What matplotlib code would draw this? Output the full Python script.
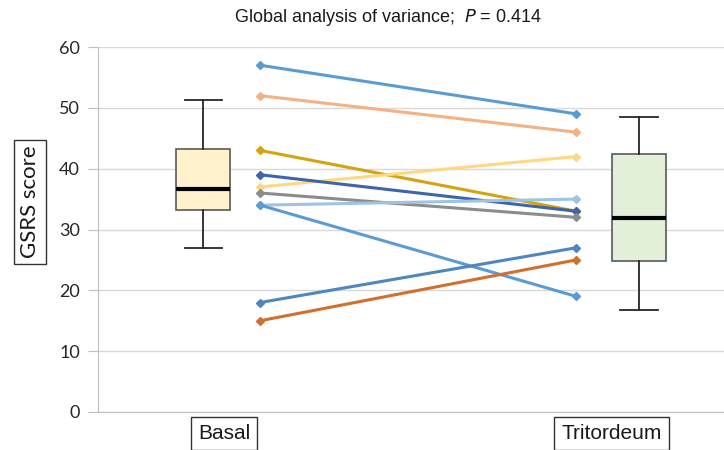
import matplotlib
matplotlib.use("Agg")
import matplotlib.pyplot as plt

groups = ["Basal", "Tritordeum"]
basal_stats = dict(whislo=27.0, q1=33.2, med=36.7, q3=43.3, whishi=51.3)
trit_stats = dict(whislo=16.8, q1=24.8, med=31.9, q3=42.4, whishi=48.5)

basal_vals = [57, 52, 43, 37, 39, 36, 34, 34, 18, 15]
trit_vals = [49, 46, 33, 42, 33, 32, 35, 19, 27, 25]
line_colors = ["#5B9BD5", "#F4B183", "#D4A410", "#FFD780", "#3E64AE",
               "#8C8C8C", "#9DC3E6", "#5B9BD5", "#4F86C0", "#D0702E"]

yticks = [0, 10, 20, 30, 40, 50, 60]

fig = plt.figure(figsize=(7.24, 4.5), dpi=100)
ax = fig.add_axes([98/724, 38/450, 626/724, 365/450])

# box plots
stats = [dict(basal_stats, label=groups[0]), dict(trit_stats, label=groups[1])]
bp = ax.bxp(stats, positions=[0, 1], widths=[0.122, 0.124], showfliers=False,
            patch_artist=True,
            boxprops=dict(edgecolor="#595959", linewidth=1.2),
            medianprops=dict(color="black", linewidth=3),
            whiskerprops=dict(color="#262626", linewidth=1.3),
            capprops=dict(color="#262626", linewidth=1.3),
            capwidths=[0.085, 0.085])
for patch, fc in zip(bp["boxes"], ["#FFF2CC", "#E2F0D9"]):
    patch.set_facecolor(fc)

# paired lines
x_left, x_right = 0.131, 0.856
for b, t, c in zip(basal_vals, trit_vals, line_colors):
    ax.plot([x_left, x_right], [b, t], color=c, lw=2.2, marker="D",
            markersize=4.5, markeredgecolor=c, zorder=3)

ax.set_xlim(-0.241, 1.195)
ax.set_ylim(0, 60)
ax.set_yticks(yticks)
ax.set_yticklabels([str(v) for v in yticks], fontsize=13, family="Lato", color="#262626")
ax.yaxis.grid(True, color="#D9D9D9", lw=1)
ax.set_axisbelow(True)
ax.set_xticks([])
for s in ["top", "right"]:
    ax.spines[s].set_visible(False)
ax.spines["left"].set_color("#BFBFBF")
ax.spines["bottom"].set_color("#BFBFBF")
ax.tick_params(axis="y", length=7, color="#BFBFBF", pad=6)

# category labels in boxes
for xp, lab in zip([0.048, 0.938], groups):
    t = ax.text(xp, -2.0, lab, ha="center", va="top", fontsize=15,
                family="Liberation Sans", color="#1a1a1a",
                bbox=dict(boxstyle="square,pad=0.35", fc="white", ec="#333333", lw=1))
    t.set_clip_on(False)

# y label
fig.text(30/724, 1 - 202/450, "GSRS score", rotation=90, ha="center", va="center",
         fontsize=16, family="Lato", color="#1a1a1a",
         bbox=dict(boxstyle="square,pad=0.25", fc="white", ec="#333333", lw=1))

# title
fig.text(388/724, 1 - 17/450, "Global analysis of variance;  $\\mathit{P}$ = 0.414",
         ha="center", va="center", fontsize=13, family="Liberation Sans", color="#1a1a1a")

fig.savefig("out.png", dpi=100)
